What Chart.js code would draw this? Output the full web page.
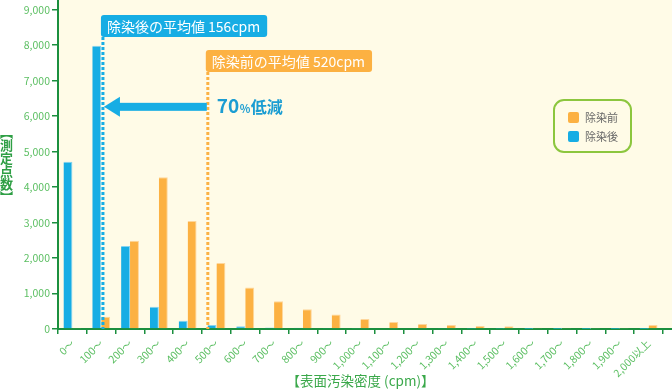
<!DOCTYPE html>
<html><head><meta charset="utf-8">
<script src="https://cdn.jsdelivr.net/npm/chart.js@4.4.1/dist/chart.umd.min.js"></script>
<style>
html,body{margin:0;padding:0;background:#fff;}
#wrap{position:relative;width:672px;height:390px;overflow:hidden;}
canvas{display:block;}
#ytitle{position:absolute;left:0;top:126px;writing-mode:vertical-rl;font:700 13px "Noto Sans CJK JP";color:#2f9f45;line-height:13px;}
#legend{position:absolute;left:553px;top:99px;width:79px;height:54px;border:2px solid #8cc63e;border-radius:11px;box-sizing:border-box;}
.li{position:absolute;left:13px;font:11px "Noto Sans CJK JP";color:#666;line-height:12px;height:12px;}
.li span.sw{position:absolute;left:0;top:0;width:11px;height:11px;border-radius:2px;}
.li span.tx{position:absolute;left:17px;top:-1px;white-space:nowrap;}
</style></head>
<body>
<div id="wrap">
<canvas id="c" width="672" height="390"></canvas>
<div id="ytitle">【測定点数】</div>
<div id="legend"></div>
</div>
<script>
const categories = ['0～','100～','200～','300～','400～','500～','600～','700～','800～','900～','1,000～','1,100～','1,200～','1,300～','1,400～','1,500～','1,600～','1,700～','1,800～','1,900～','2,000以上'];
const afterValues  = [4710, 7980, 2340, 625, 232, 110, 78, 40, 35, 30, 25, 20, 20, 15, 10, 5, 3, 2, 2, 2, 3];
const beforeValues = [30, 345, 2490, 4275, 3040, 1858, 1170, 780, 555, 410, 280, 200, 140, 110, 85, 80, 32, 30, 25, 25, 110];
const yTickValues = [0,1000,2000,3000,4000,5000,6000,7000,8000,9000];
const yTickLabels = ['0','1,000','2,000','3,000','4,000','5,000','6,000','7,000','8,000','9,000'];
const seriesNames = ['除染後','除染前'];
const meanValues = [156, 520];
const meanLabels = ['除染後の平均値 156cpm','除染前の平均値 520cpm'];
const meanLabelTops = [8845, 7860];
const arrowLevel = 6260;
const reductionParts = ['70','%','低減'];
const xTitle = '【表面汚染密度 (cpm)】';
const binWidth = 100;

const BLUE = '#17ade4', ORANGE = '#fcb142', GREEN = '#1b8f3f', TICKG = '#5cbf63';
const FONT = '"Noto Sans CJK JP", "Noto Sans", sans-serif';

const lg = document.getElementById('legend');
[[seriesNames[1], ORANGE],[seriesNames[0], BLUE]].forEach((it,i)=>{
  const d = document.createElement('div'); d.className='li'; d.style.top=(11+i*19)+'px';
  d.innerHTML = '<span class="sw" style="background:'+it[1]+'"></span><span class="tx">'+it[0]+'</span>';
  lg.appendChild(d);
});

function cpmToPixel(chart, v){
  const x = chart.scales.x;
  const step = (x.right - x.left) / categories.length;
  return x.left + v / binWidth * step;
}

const annot = {
  id:'annot',
  beforeDraw(chart){
    const {ctx, chartArea:a} = chart;
    ctx.save(); ctx.fillStyle='#fffbe7';
    ctx.fillRect(a.left, 0, chart.width - a.left, a.bottom);
    ctx.restore();
  },
  afterDatasetsDraw(chart){
    const {ctx, chartArea:a} = chart;
    const y = chart.scales.y;
    const cols = [BLUE, ORANGE];
    ctx.save();
    meanValues.forEach((m,i)=>{
      const x = cpmToPixel(chart, m);
      const top = y.getPixelForValue(meanLabelTops[i]);
      const h = 22;
      ctx.font = '14px ' + FONT;
      const w = ctx.measureText(meanLabels[i]).width + 13;
      ctx.fillStyle = cols[i];
      ctx.beginPath(); ctx.roundRect(x - 2, top, w, h, 3); ctx.fill();
      ctx.fillStyle = '#fff'; ctx.textBaseline = 'middle'; ctx.textAlign='left';
      ctx.fillText(meanLabels[i], x + 4, top + h/2 + 1);
      ctx.strokeStyle = cols[i]; ctx.lineWidth = 3; ctx.setLineDash([3,2]);
      ctx.beginPath(); ctx.moveTo(x, top + h); ctx.lineTo(x, a.bottom); ctx.stroke();
      ctx.setLineDash([]);
    });
    const xa = cpmToPixel(chart, meanValues[0]) + 1;
    const xb = cpmToPixel(chart, meanValues[1]) - 1;
    const ya = y.getPixelForValue(arrowLevel);
    ctx.fillStyle = BLUE;
    ctx.fillRect(xa + 15, ya - 4, xb - xa - 15, 8);
    ctx.beginPath(); ctx.moveTo(xa, ya); ctx.lineTo(xa + 16, ya - 10); ctx.lineTo(xa + 16, ya + 10); ctx.closePath(); ctx.fill();
    let tx = xb + 10; const tb = ya + 6.5;
    ctx.fillStyle = '#1b9dd2'; ctx.textBaseline = 'alphabetic'; ctx.textAlign = 'left';
    const fonts = ['700 19px ' + FONT, '700 11px ' + FONT, '700 16px ' + FONT];
    reductionParts.forEach((p,i)=>{ ctx.font = fonts[i]; ctx.fillText(p, tx, tb); tx += ctx.measureText(p).width + 0.5; });
    ctx.restore();
  },
  afterDraw(chart){
    const {ctx, chartArea:a} = chart;
    ctx.save(); ctx.strokeStyle = GREEN; ctx.lineWidth = 2;
    ctx.beginPath(); ctx.moveTo(a.right, a.bottom); ctx.lineTo(chart.width, a.bottom); ctx.stroke();
    ctx.restore();
  }
};

new Chart(document.getElementById('c'), {
  type:'bar',
  data:{
    labels: categories,
    datasets:[
      {label:seriesNames[0], data:afterValues, backgroundColor:BLUE, borderColor:'#86d2f0', borderWidth:{top:1,right:1,left:0,bottom:0}, borderSkipped:'start', categoryPercentage:0.62, barPercentage:1},
      {label:seriesNames[1], data:beforeValues, backgroundColor:ORANGE, borderColor:'#fed69b', borderWidth:{top:1,right:1,left:0,bottom:0}, borderSkipped:'start', categoryPercentage:0.62, barPercentage:1}
    ]
  },
  options:{
    responsive:false, animation:false, devicePixelRatio:1,
    layout:{padding:{top:0,right:9,left:0,bottom:0}},
    plugins:{legend:{display:false}, tooltip:{enabled:false}},
    scales:{
      x:{
        grid:{offset:true, drawOnChartArea:false, drawTicks:true, tickLength:5, color:GREEN, lineWidth:1.5},
        border:{color:GREEN, width:2},
        ticks:{color:TICKG, font:{size:10.5, family:FONT}, maxRotation:45, minRotation:45, autoSkip:false, padding:3},
        title:{display:true, text:xTitle, color:'#3aa84a', font:{size:13.5, family:FONT}, padding:{top:0,bottom:1}},
        afterFit(s){ s.height = 61; s.paddingLeft = 0; s.paddingRight = 0; }
      },
      y:{
        min:0, max:9270,
        grid:{drawOnChartArea:false, drawTicks:true, tickLength:6, color:GREEN, lineWidth:1.5},
        border:{color:GREEN, width:2},
        afterBuildTicks(s){ s.ticks = yTickValues.map(v=>({value:v})); },
        ticks:{color:TICKG, font:{size:10.5, family:FONT}, padding:2, callback:(v)=>yTickLabels[yTickValues.indexOf(v)]},
        afterFit(s){ s.width = 58; s.paddingTop = 0; s.paddingBottom = 0; }
      }
    }
  },
  plugins:[annot]
});
</script>
</body></html>
